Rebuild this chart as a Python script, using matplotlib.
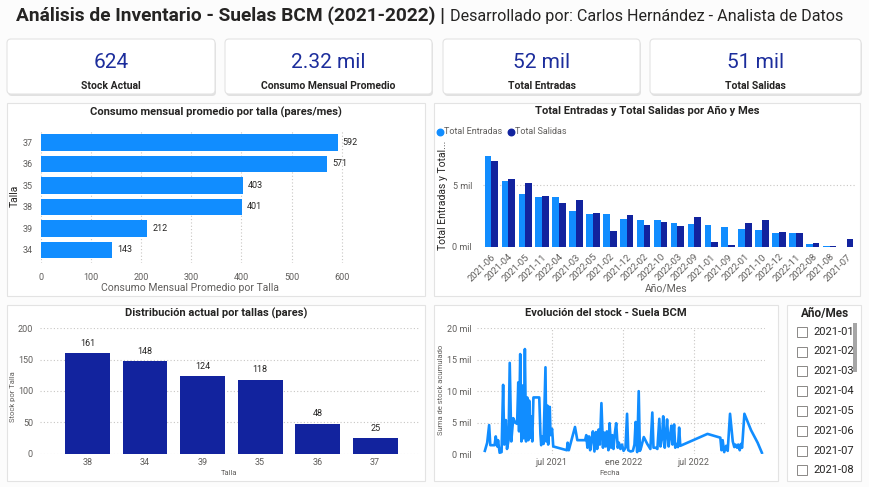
import matplotlib
matplotlib.use("Agg")
import matplotlib.pyplot as plt
import matplotlib.dates as mdates
from matplotlib.patches import Rectangle, FancyBboxPatch
import numpy as np
import pandas as pd

W, H = 869, 487

LIGHT = "#118DFF"
DARK = "#12239E"
TXT = "#252423"
GRAY = "#605E5C"
GRID = "#C8C6C4"

# --- datos ---
kpi_values = ["624", "2.32 mil", "52 mil", "51 mil"]
kpi_labels = ["Stock Actual", "Consumo Mensual Promedio", "Total Entradas", "Total Salidas"]

consumo_tallas = ["34", "39", "38", "35", "36", "37"]
consumo_valores = [143, 212, 401, 403, 571, 592]

meses = ["2021-06", "2021-04", "2021-05", "2021-11", "2022-04", "2021-03", "2022-05",
         "2021-02", "2021-12", "2022-02", "2022-10", "2022-03", "2022-09", "2021-01",
         "2021-09", "2022-01", "2021-10", "2022-12", "2022-11", "2022-08", "2021-08", "2021-07"]
entradas = [7380, 5320, 4270, 4050, 4000, 2860, 2620, 2620, 2220, 2160, 2160,
            1890, 1840, 1780, 1620, 1410, 1350, 1080, 1080, 190, 50, 0]
salidas = [6950, 5460, 5140, 4140, 3510, 3810, 2700, 1270, 2570, 1780, 2000,
           1700, 2410, 380, 140, 1950, 2160, 1160, 1080, 270, 50, 650]

stock_tallas = ["38", "34", "39", "35", "36", "37"]
stock_valores = [161, 148, 124, 118, 48, 25]

fechas_stock = [
    "2021-01-10", "2021-01-16", "2021-01-21", "2021-01-24", "2021-02-04", "2021-02-07",
    "2021-02-11", "2021-02-13", "2021-02-17", "2021-02-22", "2021-02-26", "2021-03-01",
    "2021-03-05", "2021-03-08", "2021-03-12", "2021-03-15", "2021-03-19", "2021-03-24",
    "2021-03-29", "2021-04-03", "2021-04-06", "2021-04-08", "2021-04-11", "2021-04-14",
    "2021-04-17", "2021-04-20", "2021-04-23", "2021-04-26", "2021-04-29", "2021-05-02",
    "2021-05-04", "2021-05-07", "2021-05-09", "2021-05-12", "2021-05-15", "2021-05-30",
    "2021-06-02", "2021-06-04", "2021-06-07", "2021-06-10", "2021-06-15", "2021-06-17",
    "2021-06-20", "2021-06-22", "2021-06-26", "2021-06-28", "2021-07-02", "2021-07-05",
    "2021-08-09", "2021-08-11", "2021-08-14", "2021-08-30", "2021-09-05", "2021-09-25",
    "2021-09-28", "2021-10-01", "2021-10-05", "2021-10-08", "2021-10-12", "2021-10-15",
    "2021-10-19", "2021-10-23", "2021-10-26", "2021-10-30", "2021-11-02", "2021-11-06",
    "2021-11-10", "2021-11-13", "2021-11-17", "2021-11-20", "2021-11-24", "2021-11-27",
    "2021-12-01", "2021-12-04", "2021-12-07", "2021-12-11", "2021-12-14", "2021-12-18",
    "2021-12-21", "2021-12-25", "2021-12-29", "2022-01-02", "2022-01-07", "2022-01-11",
    "2022-01-14", "2022-01-20", "2022-01-26", "2022-01-30", "2022-02-02", "2022-02-06",
    "2022-02-10", "2022-02-13", "2022-02-16", "2022-02-23", "2022-03-04", "2022-03-12",
    "2022-03-17", "2022-03-20", "2022-03-26", "2022-03-30", "2022-04-04", "2022-04-07",
    "2022-04-11", "2022-04-14", "2022-04-18", "2022-04-21", "2022-04-24", "2022-04-28",
    "2022-05-01", "2022-05-05", "2022-05-08", "2022-05-12", "2022-05-15", "2022-05-19",
    "2022-05-22", "2022-05-25", "2022-05-28", "2022-08-06", "2022-09-08", "2022-09-11",
    "2022-09-14", "2022-09-18", "2022-09-23", "2022-09-27", "2022-10-03", "2022-10-10",
    "2022-10-14", "2022-10-17", "2022-10-21", "2022-10-24", "2022-10-28", "2022-10-31",
    "2022-11-03", "2022-11-09", "2022-11-26", "2022-12-13", "2022-12-24",
]
stock_acumulado = [
    500, 1800, 4600, 1400, 1400, 2800,
    1200, 2200, 200, 300, 11000, 1500,
    5400, 800, 2200, 14500, 2000, 5700,
    5000, 4800, 11400, 3600, 15900, 2000,
    10900, 2500, 16700, 2000, 9000, 2200,
    8500, 2600, 6000, 2000, 9000, 9000,
    3200, 1400, 2800, 1600, 13800, 2000,
    7700, 1500, 7500, 3000, 4000, 1200,
    600, 1800, 600, 4300, 2200, 2200,
    3000, 1000, 2800, 600, 2500, 3600,
    400, 3500, 800, 3900, 1500, 8100,
    1000, 3400, 1200, 3600, 600, 4900,
    1000, 3000, 800, 3500, 4900, 1000,
    1800, 800, 1500, 500, 1000, 6400,
    600, 400, 500, 1500, 5100, 300,
    10000, 500, 1000, 2700, 1600, 800,
    6600, 1000, 1000, 800, 5600, 1200,
    2500, 6000, 1000, 3000, 5500, 1200,
    2500, 4500, 1500, 4700, 1000, 1600,
    1100, 4200, 1300, 3200, 2600, 600,
    2200, 300, 1300, 500, 6400, 2000,
    1100, 1500, 1000, 1500, 600, 1600,
    1000, 6400, 3800, 1800, 200,
]

slicer_meses = ["2021-01", "2021-02", "2021-03", "2021-04",
                "2021-05", "2021-06", "2021-07", "2021-08"]

plt.rcParams["font.family"] = ["Roboto", "DejaVu Sans"]

fig = plt.figure(figsize=(W / 100, H / 100), dpi=100)
fig.patch.set_facecolor("#FCFCFC")

bg = fig.add_axes([0, 0, 1, 1])
bg.set_xlim(0, W)
bg.set_ylim(H, 0)
bg.axis("off")


def px_axes(x0, y0, x1, y1):
    return fig.add_axes([x0 / W, 1 - y1 / H, (x1 - x0) / W, (y1 - y0) / H])


def mil(v, pos=None):
    return f"{int(round(v / 1000))} mil"


def style_axes(ax):
    for s in ax.spines.values():
        s.set_visible(False)
    ax.tick_params(length=0, labelsize=6.5, labelcolor=GRAY)
    ax.set_facecolor("none")


# titulo
bg.text(445, 16, "Análisis de Inventario - Suelas BCM (2021-2022) |", ha="right",
        va="center", fontsize=13.8, fontweight="bold", color=TXT)
bg.text(450, 16, "Desarrollado por: Carlos Hernández - Analista de Datos", ha="left",
        va="center", fontsize=11.6, color=TXT)

# tarjetas KPI
cards = [(7, 215), (225, 432), (443, 640), (650, 861)]
for (x0, x1), val, lab in zip(cards, kpi_values, kpi_labels):
    bg.add_patch(FancyBboxPatch((x0 + 1, 41), x1 - x0, 55, boxstyle="round,pad=0,rounding_size=4",
                                facecolor="#D6D6D6", edgecolor="none", alpha=0.7))
    bg.add_patch(FancyBboxPatch((x0, 39), x1 - x0, 55, boxstyle="round,pad=0,rounding_size=4",
                                facecolor="white", edgecolor="#E3E3E3", linewidth=0.8))
    cx = (x0 + x1) / 2
    bg.text(cx, 62, val, ha="center", va="center", fontsize=15, color="#1C2D9C")
    bg.text(cx, 86, lab, ha="center", va="center", fontsize=7.5, fontweight="bold", color=TXT)

# paneles
panels = [(7, 103, 425, 296), (434, 103, 860, 296), (7, 305, 425, 481),
          (434, 305, 778, 481), (787, 305, 861, 481)]
for x0, y0, x1, y1 in panels:
    bg.add_patch(Rectangle((x0, y0), x1 - x0, y1 - y0, facecolor="white",
                           edgecolor="#E3E3E3", linewidth=0.8))

# 1) consumo mensual por talla
ax1 = px_axes(40.7, 129.6, 355, 262.9)
style_axes(ax1)
y = np.arange(len(consumo_tallas))
ax1.barh(y, consumo_valores, height=0.78, color=LIGHT, zorder=2)
for yi, v in zip(y, consumo_valores):
    ax1.text(v + 10, yi, str(v), va="center", ha="left", fontsize=6.5, color=TXT)
ax1.set_yticks(y, consumo_tallas)
ax1.set_xticks([0, 100, 200, 300, 400, 500, 600])
ax1.set_xlim(0, 600 * (355 - 40.7) / 301)
ax1.set_ylim(-0.6, 5.6)
ax1.grid(axis="x", color=GRID, linestyle=(0, (1, 2)), linewidth=0.8)
ax1.set_axisbelow(True)
ax1.tick_params(axis="x", pad=7)
ax1.tick_params(axis="y", pad=6)
bg.text(216, 112, "Consumo mensual promedio por talla (pares/mes)", ha="center", va="center",
        fontsize=8, fontweight="bold", color=TXT)
bg.text(190, 288, "Consumo Mensual Promedio por Talla", ha="center", va="center",
        fontsize=7.5, color=GRAY)
bg.text(15, 196, "Talla", ha="center", va="center", rotation=90, fontsize=7.5, color=TXT)

# 2) entradas y salidas por mes
ax2 = px_axes(483, 148, 855, 246.7)
style_axes(ax2)
x = np.arange(len(meses))
ax2.bar(x - 0.2, entradas, width=0.4, color=LIGHT, zorder=2)
ax2.bar(x + 0.2, salidas, width=0.4, color=DARK, zorder=2)
ax2.set_xlim(-0.5, len(meses) - 0.5)
ax2.set_ylim(0, 8000)
ax2.set_yticks([0, 5000])
ax2.yaxis.set_major_formatter(mil)
ax2.grid(axis="y", color=GRID, linestyle=(0, (1, 2)), linewidth=0.8)
ax2.set_axisbelow(True)
ax2.set_xticks(x, meses, rotation=45, ha="right", rotation_mode="anchor")
ax2.tick_params(axis="x", pad=4, labelsize=6.8)
ax2.tick_params(axis="y", pad=8)
bg.text(647, 111, "Total Entradas y Total Salidas por Año y Mes", ha="center", va="center",
        fontsize=8, fontweight="bold", color=TXT)
bg.scatter([440], [131.5], s=22, color=LIGHT, zorder=3)
bg.text(444, 131.5, "Total Entradas", ha="left", va="center", fontsize=6.5, color=GRAY)
bg.scatter([511], [131.5], s=22, color=DARK, zorder=3)
bg.text(515, 131.5, "Total Salidas", ha="left", va="center", fontsize=6.5, color=GRAY)
bg.text(443, 195, "Total Entradas y Total...", ha="center", va="center", rotation=90,
        fontsize=7.5, color=TXT)
bg.text(666, 288, "Año/Mes", ha="center", va="center", fontsize=7.5, color=GRAY)

# 3) distribucion actual por tallas
ax3 = px_axes(40, 328.3, 420, 453.7)
style_axes(ax3)
xs = np.arange(len(stock_tallas))
ax3.bar(xs, stock_valores, width=0.78, color=DARK, zorder=2)
for xi, v in zip(xs, stock_valores):
    ax3.annotate(str(v), (xi, v), xytext=(0, 7), textcoords="offset points",
                 ha="center", va="center", fontsize=6.5, color=TXT)
ax3.set_xticks(xs, stock_tallas)
ax3.set_xlim(-0.826, 5.78)
ax3.set_ylim(0, 200)
ax3.set_yticks([0, 50, 100, 150, 200])
ax3.grid(axis="y", color=GRID, linestyle=(0, (1, 2)), linewidth=0.8)
ax3.set_axisbelow(True)
ax3.tick_params(axis="x", pad=3)
ax3.tick_params(axis="y", pad=5)
bg.text(216, 313, "Distribución actual por tallas (pares)", ha="center", va="center",
        fontsize=8, fontweight="bold", color=TXT)
bg.text(229, 473, "Talla", ha="center", va="center", fontsize=5.5, color=GRAY)
bg.text(13, 397, "Stock por Talla", ha="center", va="center", rotation=90,
        fontsize=5.5, color=GRAY)

# 4) evolucion del stock
ax4 = px_axes(476.7, 328.3, 765, 454)
style_axes(ax4)
fechas = pd.to_datetime(fechas_stock)
ax4.plot(fechas, stock_acumulado, color=LIGHT, linewidth=1.9, zorder=2)
ax4.set_xlim(pd.Timestamp("2020-12-20"), pd.Timestamp("2023-01-01"))
ax4.set_ylim(0, 20000)
ax4.set_yticks([0, 5000, 10000, 15000, 20000])
ax4.yaxis.set_major_formatter(mil)
ticks = pd.to_datetime(["2021-07-01", "2022-01-01", "2022-07-01"])
ax4.set_xticks(ticks, ["jul 2021", "ene 2022", "jul 2022"])
ax4.grid(color=GRID, linestyle=(0, (1, 2)), linewidth=0.8)
ax4.set_axisbelow(True)
ax4.tick_params(axis="x", pad=3)
ax4.tick_params(axis="y", pad=4)
bg.text(606, 313, "Evolución del stock - Suela BCM", ha="center", va="center",
        fontsize=8, fontweight="bold", color=TXT)
bg.text(610, 473, "Fecha", ha="center", va="center", fontsize=5.5, color=GRAY)
bg.text(441, 390, "Suma de stock acumulado", ha="center", va="center", rotation=90,
        fontsize=5.5, color=GRAY)

# 5) segmentador Año/Mes
bg.text(825, 313, "Año/Mes", ha="center", va="center", fontsize=8.5, fontweight="bold", color=TXT)
for i, m in enumerate(slicer_meses):
    yc = 331.7 + 19.8 * i
    bg.add_patch(Rectangle((796.5, yc - 5), 10, 10, facecolor="white", edgecolor="#8A8886",
                           linewidth=0.7))
    bg.text(813, yc, m, ha="left", va="center", fontsize=8, color=TXT)
bg.add_patch(Rectangle((852.7, 322.7), 4.6, 49, facecolor="#A6A6A6", edgecolor="none"))

fig.savefig("out.png", dpi=100, facecolor=fig.get_facecolor())
